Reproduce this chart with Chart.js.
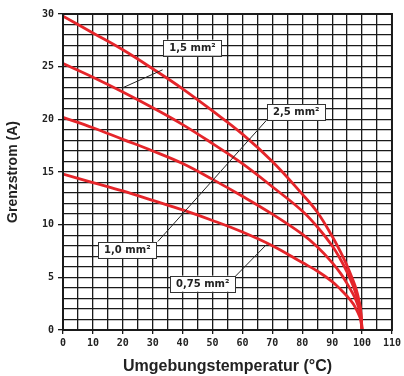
<!DOCTYPE html>
<html><head><meta charset="utf-8">
<script src="https://cdn.jsdelivr.net/npm/chart.js@4/dist/chart.umd.min.js"></script>
<style>html,body{margin:0;padding:0;background:#fff;}#wrap{width:404px;height:376px;}</style>
</head><body><div id="wrap"><canvas id="c" width="404" height="376"></canvas></div>
<script>
// Data (temperature °C -> current A)
const temps = [0,10,20,30,40,50,60,70,80,85,90,93,95,97,98,99,99.5,100];
const cur25 = [29.8,28.2,26.6,24.8,22.9,20.8,18.6,16.0,12.9,11.2,8.9,7.3,6.1,4.7,3.9,2.8,2.0,0];
const cur15 = [25.3,24.0,22.6,21.1,19.5,17.7,15.8,13.6,11.3,9.8,8.0,6.6,5.5,4.2,3.4,2.5,1.8,0];
const cur10 = [20.2,19.2,18.1,17.0,15.8,14.3,12.7,11.0,9.1,7.9,6.4,5.3,4.4,3.4,2.8,2.0,1.4,0];
const cur075 = [14.8,14.0,13.2,12.3,11.4,10.4,9.3,8.0,6.4,5.6,4.6,3.8,3.2,2.5,2.0,1.4,1.0,0];
const seriesNames = ['2,5 mm²','1,5 mm²','1,0 mm²','0,75 mm²'];
const xTickLabels = [0,10,20,30,40,50,60,70,80,90,100,110];
const yTickLabels = [0,5,10,15,20,25,30];

// label boxes (data coordinates) and leader lines
const labelBoxes = [
  {text:'1,5 mm²', x:43.3, y:26.8, lines:[[33.3,24.7],[20,23.0]]},
  {text:'2,5 mm²', x:78.0, y:20.7, lines:[[68,19.9],[31.7,8.4]]},
  {text:'1,0 mm²', x:21.5, y:7.6, lines:[]},
  {text:'0,75 mm²', x:46.7, y:4.4, lines:[[57.3,5.0],[68,8.1]]}
];

const RED = '#e5252a';
const GRID = '#1a1a1a';
const tickFont = {family:'DejaVu Sans Mono', size:10, weight:'bold'};

const mk = (arr) => temps.map((t,i)=>({x:t,y:arr[i]}));

const frame = {
  id:'frame',
  afterDatasetsDraw(chart){
    const {ctx, chartArea:a, scales:{x,y}} = chart;
    ctx.save();
    ctx.strokeStyle = GRID; ctx.lineWidth = 2;
    ctx.strokeRect(a.left, a.top, a.right-a.left, a.bottom-a.top);
    ctx.font = 'bold 10px "DejaVu Sans"';
    ctx.textAlign='center'; ctx.textBaseline='middle';
    labelBoxes.forEach(b=>{
      if(b.lines.length){
        ctx.beginPath(); ctx.lineWidth=1; ctx.strokeStyle='#222';
        ctx.moveTo(x.getPixelForValue(b.lines[0][0]), y.getPixelForValue(b.lines[0][1]));
        ctx.lineTo(x.getPixelForValue(b.lines[1][0]), y.getPixelForValue(b.lines[1][1]));
        ctx.stroke();
      }
    });
    labelBoxes.forEach(b=>{
      const cx = x.getPixelForValue(b.x), cy = y.getPixelForValue(b.y);
      const w = ctx.measureText(b.text).width + 12, h = 16;
      ctx.fillStyle='#fff'; ctx.fillRect(cx-w/2, cy-h/2, w, h);
      ctx.lineWidth=1; ctx.strokeStyle='#333';
      ctx.strokeRect(Math.round(cx-w/2)+0.5, Math.round(cy-h/2)+0.5, Math.round(w), h);
      ctx.fillStyle='#222'; ctx.fillText(b.text, cx, cy+0.5);
    });
    ctx.restore();
  }
};

const ds = [cur25,cur15,cur10,cur075].map((arr,i)=>({
  label: seriesNames[i], data: mk(arr), borderColor: RED, borderWidth: 2.8,
  pointRadius: 0, fill:false, tension:0.4, borderJoinStyle:'round', borderCapStyle:'round'
}));

new Chart(document.getElementById('c'), {
  type:'line',
  data:{datasets: ds},
  options:{
    responsive:false, animation:false, devicePixelRatio:1,
    layout:{padding:{top:14,right:11,left:0,bottom:0}},
    plugins:{legend:{display:false}, tooltip:{enabled:false}},
    scales:{
      x:{type:'linear', min:0, max:110,
        afterFit(s){ s.height = 46; },
        border:{display:true,color:GRID,width:2},
        grid:{color:GRID, lineWidth:1.3, tickLength:4,
          tickColor:(c)=> (c.tick && c.tick.value%10===0) ? GRID : 'rgba(0,0,0,0)'},
        ticks:{stepSize:5, autoSkip:false, maxRotation:0, padding:3, color:'#222', font:tickFont,
          callback:(v)=> xTickLabels.includes(v) ? String(v) : ''},
        title:{display:true, text:'Umgebungstemperatur (°C)', color:'#222',
          font:{family:'Liberation Sans', size:16, weight:'bold'}, padding:{top:5,bottom:0}}
      },
      y:{type:'linear', min:0, max:30,
        afterFit(s){ s.width = 63; },
        border:{display:true,color:GRID,width:2},
        grid:{color:GRID, lineWidth:1.3, tickLength:5,
          tickColor:(c)=> (c.tick && c.tick.value%5===0) ? GRID : 'rgba(0,0,0,0)'},
        ticks:{stepSize:1, autoSkip:false, padding:4, color:'#222', font:tickFont,
          callback:(v)=> yTickLabels.includes(v) ? String(v) : ''},
        title:{display:true, text:'Grenzstrom (A)', color:'#222',
          font:{family:'Liberation Sans', size:14, weight:'bold'}, padding:{top:5,bottom:0}}
      }
    }
  },
  plugins:[frame]
});
</script></body></html>
